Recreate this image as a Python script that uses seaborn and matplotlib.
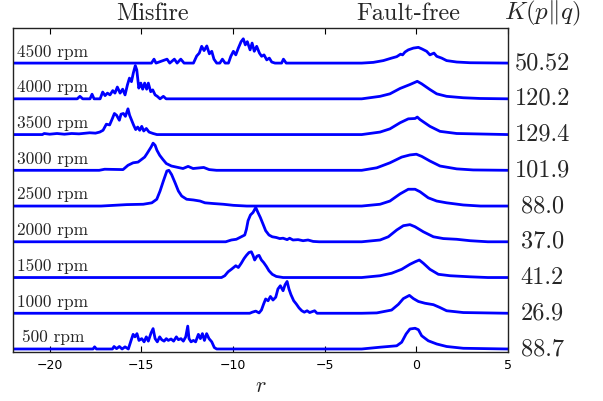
import numpy as np
import pandas as pd
import seaborn as sns
import matplotlib
matplotlib.use("Agg")
import matplotlib.pyplot as plt

sns.set_style("ticks")
plt.rcParams['mathtext.fontset'] = 'cm'
plt.rcParams['font.family'] = ['DejaVu Sans']

# speed labels, bottom to top, and the K(p||q) value shown at the right of each trace
rpm_labels = ['500 rpm', '1000 rpm', '1500 rpm', '2000 rpm', '2500 rpm',
              '3000 rpm', '3500 rpm', '4000 rpm', '4500 rpm']
kl_values = ['88.7', '26.9', '41.2', '37.0', '88.0', '101.9', '129.4', '120.2', '50.52']

# (r, density) pairs, misfire part then fault-free part
row_500 = [(-22, 0), (-17.64, 0), (-17.55, 0.06), (-17.45, 0), (-16.58, 0), (-16.49, 0.07),
           (-16.35, 0.01), (-16.2, 0.07), (-16.05, 0), (-15.89, 0.06), (-15.71, 0), (-15.56, 0.24),
           (-15.45, 0.41), (-15.35, 0.34), (-15.24, 0.43), (-15.13, 0.24), (-14.98, 0.29),
           (-14.85, 0.20), (-14.73, 0.34), (-14.62, 0.22), (-14.47, 0.45), (-14.36, 0.57),
           (-14.25, 0.29), (-14.13, 0.20), (-14.0, 0.34), (-13.89, 0.26), (-13.76, 0.22),
           (-13.64, 0.29), (-13.53, 0.24), (-13.38, 0.28), (-13.24, 0.22), (-13.09, 0.34),
           (-12.98, 0.26), (-12.84, 0.29), (-12.71, 0.22), (-12.58, 0.34), (-12.47, 0.64),
           (-12.4, 0.29), (-12.29, 0.20), (-12.16, 0.24), (-12.04, 0.20), (-11.89, 0.41),
           (-11.78, 0.29), (-11.67, 0.43), (-11.56, 0.24), (-11.44, 0.43), (-11.31, 0.29),
           (-11.16, 0.20), (-11.02, 0.04), (-10.89, 0),
           (-2.98, 0), (-1.98, 0.05), (-1.07, 0.09), (-0.8, 0.19), (-0.56, 0.42), (-0.35, 0.56),
           (-0.07, 0.58), (0.11, 0.54), (0.29, 0.37), (0.65, 0.23), (1.11, 0.14), (1.65, 0.07),
           (2.56, 0.02), (5, 0)]
row_1000 = [(-22, 0), (-9.09, 0), (-8.95, 0.03), (-8.76, 0.06), (-8.58, 0.01), (-8.45, 0.09),
            (-8.33, 0.26), (-8.22, 0.40), (-8.09, 0.35), (-7.96, 0.47), (-7.82, 0.37), (-7.67, 0.45),
            (-7.55, 0.68), (-7.42, 0.77), (-7.27, 0.63), (-7.16, 0.80), (-7.05, 0.89), (-6.95, 0.68),
            (-6.84, 0.52), (-6.69, 0.35), (-6.55, 0.26), (-6.4, 0.15), (-6.25, 0.07), (-6.11, 0.03),
            (-5.96, 0.07), (-5.82, 0.02), (-5.55, 0.07), (-5.42, 0),
            (-2.98, 0), (-2.16, 0.01), (-1.35, 0.09), (-0.98, 0.25), (-0.71, 0.41), (-0.38, 0.50),
            (-0.16, 0.41), (0.11, 0.33), (0.47, 0.28), (0.93, 0.24), (1.29, 0.16), (1.65, 0.07),
            (2.56, 0.02), (5, 0)]
row_1500 = [(-22, 0), (-10.63, 0), (-10.45, 0.05), (-10.27, 0.16), (-10.09, 0.23), (-9.85, 0.33),
            (-9.71, 0.28), (-9.55, 0.40), (-9.4, 0.53), (-9.27, 0.62), (-9.13, 0.70), (-9.0, 0.72),
            (-8.91, 0.62), (-8.82, 0.49), (-8.69, 0.60), (-8.58, 0.62), (-8.45, 0.49), (-8.33, 0.42),
            (-8.18, 0.31), (-8.04, 0.19), (-7.86, 0.09), (-7.64, 0.03), (-7.27, 0),
            (-2.98, 0), (-1.98, 0.05), (-1.35, 0.12), (-0.8, 0.23), (-0.35, 0.37), (-0.07, 0.44),
            (0.16, 0.49), (0.38, 0.40), (0.74, 0.23), (1.2, 0.09), (1.84, 0.05), (2.93, 0.02),
            (3.9, 0), (5, 0)]
row_2000 = [(-22, 0), (-10.4, 0), (-10.09, 0.05), (-9.82, 0.07), (-9.55, 0.14), (-9.36, 0.19),
            (-9.27, 0.35), (-9.18, 0.59), (-9.05, 0.75), (-8.91, 0.82), (-8.76, 0.96), (-8.64, 0.82),
            (-8.51, 0.68), (-8.36, 0.49), (-8.22, 0.31), (-8.04, 0.19), (-7.86, 0.14), (-7.64, 0.12),
            (-7.45, 0.09), (-7.27, 0.10), (-7.05, 0.06), (-6.91, 0.10), (-6.73, 0.05), (-6.45, 0.06),
            (-6.18, 0.03), (-5.91, 0.05), (-5.63, 0.01), (-5.3, 0),
            (-2.98, 0), (-1.98, 0.05), (-1.53, 0.14), (-1.07, 0.33), (-0.71, 0.45), (-0.35, 0.48),
            (-0.07, 0.42), (0.38, 0.28), (0.93, 0.14), (1.47, 0.09), (2.2, 0.07), (2.93, 0.03),
            (3.9, 0), (5, 0)]
row_2500 = [(-22, 0), (-17.2, 0), (-15.8, 0.04), (-14.9, 0.05), (-14.43, 0.09), (-14.16, 0.19),
            (-13.98, 0.42), (-13.8, 0.70), (-13.61, 0.98), (-13.5, 1.0), (-13.35, 0.88),
            (-13.16, 0.65), (-12.98, 0.42), (-12.8, 0.28), (-12.53, 0.19), (-12.16, 0.17),
            (-11.8, 0.14), (-11.53, 0.09), (-11.07, 0.07), (-10.53, 0.05), (-9.98, 0.02), (-9.25, 0),
            (-2.98, 0), (-1.98, 0.05), (-1.44, 0.14), (-0.89, 0.34), (-0.44, 0.47), (-0.07, 0.47),
            (0.2, 0.40), (0.65, 0.23), (1.11, 0.14), (1.65, 0.09), (2.56, 0.03), (3.5, 0), (5, 0)]
row_3000 = [(-22, 0), (-17.3, 0), (-17.0, 0.03), (-16.0, 0.02), (-15.73, 0.14), (-15.45, 0.21),
            (-15.18, 0.23), (-15.0, 0.30), (-14.82, 0.37), (-14.69, 0.47), (-14.58, 0.56),
            (-14.47, 0.65), (-14.36, 0.76), (-14.25, 0.70), (-14.15, 0.56), (-14.0, 0.42),
            (-13.82, 0.30), (-13.64, 0.19), (-13.36, 0.12), (-13.09, 0.09), (-12.73, 0.05),
            (-12.45, 0.11), (-12.18, 0.05), (-11.6, 0.08), (-11.3, 0.02), (-10.9, 0),
            (-2.98, 0), (-2.16, 0.07), (-1.44, 0.21), (-0.8, 0.37), (-0.35, 0.43), (0.0, 0.45),
            (0.29, 0.39), (0.74, 0.26), (1.29, 0.12), (2.2, 0.04), (3.1, 0.01), (5, 0)]
row_3500 = [(-22, 0), (-20.4, 0), (-20.3, 0.03), (-20.0, 0.01), (-19.6, 0.03), (-19.2, 0.01),
            (-18.8, 0.03), (-18.4, 0.02), (-17.82, 0.05), (-17.5, 0.04), (-17.27, 0.07),
            (-17.09, 0.12), (-16.91, 0.29), (-16.73, 0.27), (-16.58, 0.45), (-16.47, 0.59),
            (-16.35, 0.54), (-16.2, 0.40), (-16.11, 0.57), (-15.98, 0.59), (-15.87, 0.51),
            (-15.73, 0.72), (-15.64, 0.54), (-15.53, 0.40), (-15.42, 0.26), (-15.31, 0.14),
            (-15.2, 0.21), (-15.09, 0.12), (-14.98, 0.23), (-14.87, 0.10), (-14.73, 0.17),
            (-14.58, 0.07), (-14.36, 0.03), (-14.15, 0),
            (-2.98, 0), (-1.98, 0.07), (-1.44, 0.16), (-0.89, 0.33), (-0.44, 0.44), (-0.07, 0.45),
            (0.05, 0.49), (0.2, 0.42), (0.74, 0.23), (1.29, 0.09), (2.2, 0.03), (5, 0)]
row_4000 = [(-22, 0), (-18.5, 0), (-18.35, 0.07), (-18.2, 0), (-17.8, 0), (-17.69, 0.13),
            (-17.58, 0), (-17.25, 0), (-17.11, 0.19), (-16.98, 0.09), (-16.85, 0.16), (-16.71, 0.11),
            (-16.56, 0.23), (-16.44, 0.16), (-16.31, 0.33), (-16.16, 0.16), (-16.02, 0.27),
            (-15.89, 0.11), (-15.76, 0.39), (-15.65, 0.58), (-15.54, 0.48), (-15.44, 0.72),
            (-15.33, 0.93), (-15.25, 0.81), (-15.14, 0.30), (-15.03, 0.44), (-14.93, 0.27),
            (-14.82, 0.44), (-14.71, 0.27), (-14.62, 0.44), (-14.49, 0.20), (-14.38, 0.25),
            (-14.25, 0.11), (-14.13, 0.07), (-13.98, 0), (-13.8, 0.07), (-13.65, 0),
            (-2.98, 0), (-1.98, 0.07), (-1.44, 0.14), (-0.89, 0.29), (-0.35, 0.40), (0.05, 0.49),
            (0.29, 0.42), (0.74, 0.26), (1.11, 0.14), (1.65, 0.07), (2.56, 0.03), (3.47, 0.01), (5, 0)]
row_4500 = [(-22, 0), (-14.45, 0), (-14.31, 0.11), (-14.2, 0), (-13.6, 0.11), (-13.45, 0),
            (-13.2, 0.11), (-13.05, 0), (-12.85, 0.11), (-12.67, 0), (-12.16, 0), (-11.98, 0.20),
            (-11.84, 0.28), (-11.71, 0.47), (-11.58, 0.35), (-11.43, 0.48), (-11.29, 0.26),
            (-11.16, 0.33), (-11.04, 0.11), (-10.89, 0), (-10.72, 0), (-10.58, 0.11), (-10.43, 0),
            (-10.25, 0), (-10.12, 0.19), (-9.98, 0.33), (-9.85, 0.23), (-9.71, 0.42), (-9.56, 0.60),
            (-9.44, 0.68), (-9.33, 0.51), (-9.22, 0.60), (-9.07, 0.37), (-8.96, 0.56), (-8.84, 0.33),
            (-8.71, 0.47), (-8.56, 0.28), (-8.44, 0.19), (-8.31, 0.23), (-8.16, 0.09), (-8.02, 0.14),
            (-7.89, 0.03), (-7.71, 0), (-7.35, 0), (-7.25, 0.11), (-7.1, 0),
            (-2.98, 0), (-2.35, 0.02), (-1.8, 0.07), (-1.35, 0.14), (-1.07, 0.18), (-0.86, 0.25),
            (-0.75, 0.23), (-0.62, 0.31), (-0.44, 0.37), (-0.16, 0.42), (0.11, 0.44), (0.29, 0.40),
            (0.56, 0.33), (0.74, 0.23), (0.96, 0.28), (1.11, 0.19), (1.38, 0.14), (1.65, 0.07),
            (2.2, 0.03), (2.93, 0.01), (5, 0)]

rows = [row_500, row_1000, row_1500, row_2000, row_2500,
        row_3000, row_3500, row_4000, row_4500]

fig = plt.figure(figsize=(6.03, 4.01), dpi=100)
ax = fig.add_axes([0.0216, 0.1222, 0.8209, 0.8078])

serif = dict(family='cmr10')

for i, pts in enumerate(rows):
    df = pd.DataFrame(pts, columns=['r', 'p'])
    df['y'] = df['p'] + i
    sns.lineplot(data=df, x='r', y='y', ax=ax, color='blue', lw=2.0,
                 sort=False, estimator=None, solid_joinstyle='round')
    lx = -21.5 if i == 0 else -21.8
    ax.text(lx, i + 0.1, rpm_labels[i], fontsize=12.5, ha='left', va='bottom', **serif)
    ax.text(1.069, i, kl_values[i], transform=ax.get_yaxis_transform(),
            fontsize=17.5, ha='center', va='center', **serif)

ax.set_xlim(-22, 5)
ax.set_ylim(-0.084, 8.98)
ax.set_xticks([-20, -15, -10, -5, 0, 5])
ax.set_yticks([])
ax.tick_params(axis='x', direction='in', top=True, length=4, width=0.8,
               labelsize=9, pad=5, colors='black')
for s in ax.spines.values():
    s.set_visible(True)
    s.set_color('#222222')
    s.set_linewidth(1.0)
ax.set_xlabel(r'$r$', fontsize=16, labelpad=3)
ax.set_ylabel('')

tr = ax.get_xaxis_transform()
ax.text(-14.4, 1.045, 'Misfire', transform=tr, fontsize=17.5, ha='center', va='center', **serif)
ax.text(-0.45, 1.045, 'Fault-free', transform=tr, fontsize=17.5, ha='center', va='center', **serif)
ax.text(1.069, 1.045, r'$K(p\Vert q)$', transform=ax.transAxes,
        fontsize=18, ha='center', va='center')

fig.savefig('out.png', dpi=100)
